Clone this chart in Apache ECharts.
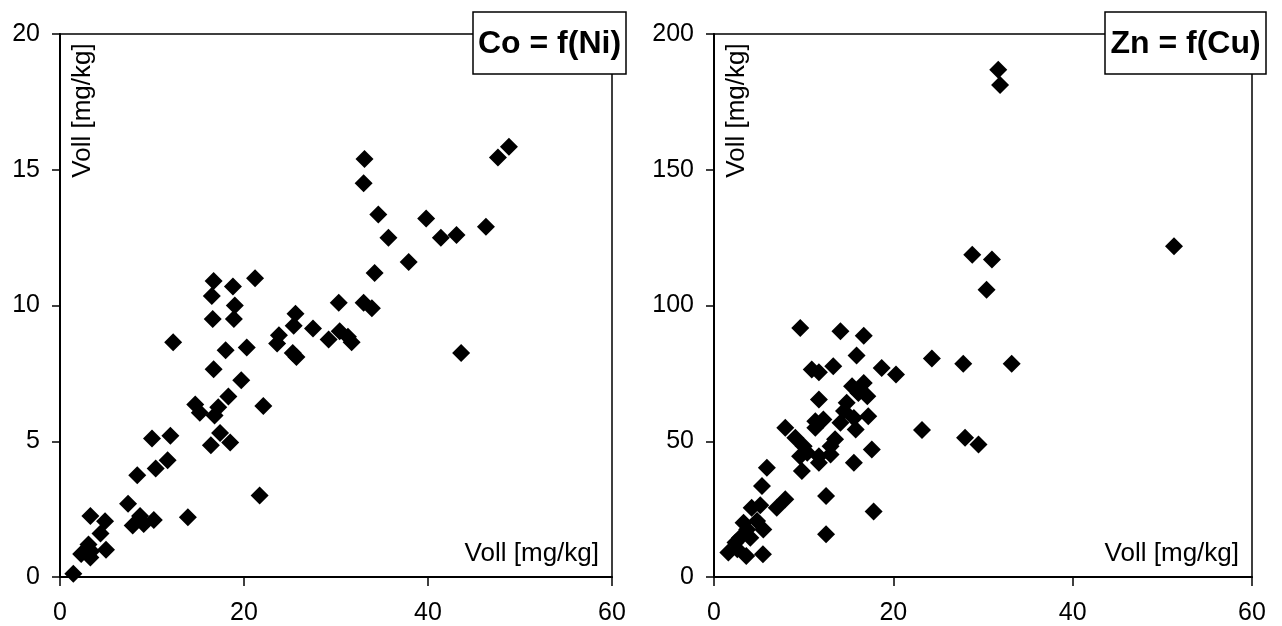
<!DOCTYPE html>
<html>
<head>
<meta charset="utf-8">
<script src="https://cdn.jsdelivr.net/npm/echarts@6/dist/echarts.min.js"></script>
<style>
html,body{margin:0;padding:0;background:#fff;}
#chart{width:1282px;height:626px;}
</style>
</head>
<body>
<div id="chart"></div>
<script>
// Left panel: Co = f(Ni)
const niValues = [1.45,2.3,3.1,3.4,3.3,2.9,3.3,4.4,4.9,5.0,7.4,7.9,8.7,9.1,10.2,8.4,10.0,10.4,12.0,11.7,12.3,13.9,14.7,15.2,16.4,16.8,17.2,17.4,18.5,18.3,16.7,18.0,19.7,20.3,16.6,18.9,19.0,16.7,16.5,18.8,21.2,21.7,22.1,23.8,23.6,25.6,25.4,25.3,25.7,27.5,29.2,30.3,30.4,31.3,31.7,33.0,33.9,43.6,33.1,33.0,34.6,35.7,37.9,34.2,39.8,41.4,43.1,46.3,47.6,48.8];
const coValues = [0.12,0.85,1.2,0.95,0.72,1.0,2.25,1.6,2.05,1.0,2.7,1.9,2.25,1.95,2.1,3.75,5.1,4.0,5.2,4.3,8.65,2.2,6.35,6.05,4.85,5.95,6.25,5.3,4.95,6.65,7.65,8.35,7.25,8.45,9.5,9.5,10.0,10.9,10.35,10.7,11.0,3.0,6.3,8.9,8.6,9.7,9.25,8.25,8.1,9.15,8.75,10.1,9.05,8.85,8.65,10.1,9.9,8.25,15.4,14.5,13.35,12.5,11.6,11.2,13.2,12.5,12.6,12.9,15.45,15.85];
// Right panel: Zn = f(Cu)
const cuValues = [1.6,2.6,2.4,2.9,3.6,4.05,3.3,3.7,4.8,5.5,5.46,4.2,5.16,5.35,5.9,7.0,7.95,7.95,9.07,10.0,9.6,10.4,9.8,11.7,11.7,13.0,13.0,13.5,11.3,11.3,12.2,11.7,10.9,11.7,13.3,9.62,14.1,16.7,15.9,15.4,16.7,17.1,16.1,14.8,14.5,17.2,14.1,15.6,15.8,15.6,17.6,17.8,12.5,12.5,18.7,20.3,24.3,27.8,23.2,28.0,29.5,33.2,28.8,31.0,30.4,31.7,31.9,51.3];
const znValues = [9.0,10.2,12.7,14.5,7.7,14.5,20.0,17.5,20.6,17.5,8.4,25.5,26.4,33.5,40.2,25.5,28.6,55.0,51.3,48.2,44.5,45.8,39.0,42.1,44.5,45.1,48.2,50.7,55.0,57.4,58.0,65.4,76.4,75.4,77.6,91.7,90.5,88.9,81.6,70.3,71.5,66.6,67.8,64.2,61.1,59.2,56.8,58.6,54.3,42.1,47.0,24.1,29.8,15.7,77.0,74.6,80.5,78.5,54.1,51.3,48.8,78.5,118.7,116.9,105.8,186.8,181.2,121.8];

const xTicks = [0, 20, 40, 60];
const yTicksLeft = [0, 5, 10, 15, 20];
const yTicksRight = [0, 50, 100, 150, 200];
const axisNameText = 'Voll [mg/kg]';
const titleLeft = 'Co = f(Ni)';
const titleRight = 'Zn = f(Cu)';

const zip = (a, b) => a.map((v, i) => [v, b[i]]);

const FONT = '"Liberation Sans", Arial, sans-serif';
const G1 = {left: 60, top: 34, width: 552, height: 544};
const G2 = {left: 714, top: 34, width: 538, height: 544};

function xAxisCfg(idx) {
  return {
    type: 'value', gridIndex: idx, min: xTicks[0], max: xTicks[xTicks.length-1],
    interval: xTicks[1]-xTicks[0],
    axisLine: {show: true, onZero: false, lineStyle: {color: '#000', width: 2}},
    axisTick: {show: true, inside: false, length: 9, lineStyle: {color: '#000', width: 1.5}},
    axisLabel: {color: '#000', fontSize: 25, fontFamily: FONT, margin: 24},
    splitLine: {show: false}
  };
}
function yAxisCfg(idx, ticks) {
  return {
    type: 'value', gridIndex: idx, min: ticks[0], max: ticks[ticks.length-1],
    interval: ticks[1]-ticks[0],
    axisLine: {show: true, onZero: false, lineStyle: {color: '#000', width: 2}},
    axisTick: {show: true, inside: false, length: 8, lineStyle: {color: '#000', width: 1.5}},
    axisLabel: {color: '#000', fontSize: 25, fontFamily: FONT, margin: 20},
    splitLine: {show: false}
  };
}

function titleBox(x, y, w, h, text) {
  return {
    type: 'group', z: 100,
    children: [
      {type: 'rect', shape: {x: x, y: y, width: w, height: h},
       style: {fill: '#fff', stroke: '#000', lineWidth: 1.5}},
      {type: 'text', x: x + w/2, y: y + h/2 + 1,
       style: {text: text, fill: '#000', font: 'bold 32px ' + FONT, textAlign: 'center', textVerticalAlign: 'middle'}}
    ]
  };
}
function yName(x, y) {
  return {type: 'text', x: x, y: y, rotation: Math.PI/2, z: 50,
    style: {text: axisNameText, fill: '#000', font: '26px ' + FONT, textAlign: 'center', textVerticalAlign: 'middle'}};
}
function xName(x, y) {
  return {type: 'text', x: x, y: y, z: 50,
    style: {text: axisNameText, fill: '#000', font: '26px ' + FONT, textAlign: 'right', textVerticalAlign: 'middle'}};
}

const chart = echarts.init(document.getElementById('chart'), null, {renderer: 'canvas'});
chart.setOption({
  backgroundColor: '#fff',
  animation: false,
  grid: [
    Object.assign({show: true, borderColor: '#000', borderWidth: 1.5, backgroundColor: 'transparent'}, G1),
    Object.assign({show: true, borderColor: '#000', borderWidth: 1.5, backgroundColor: 'transparent'}, G2)
  ],
  xAxis: [xAxisCfg(0), xAxisCfg(1)],
  yAxis: [yAxisCfg(0, yTicksLeft), yAxisCfg(1, yTicksRight)],
  series: [
    {type: 'scatter', xAxisIndex: 0, yAxisIndex: 0, data: zip(niValues, coValues),
     symbol: 'diamond', symbolSize: 18, itemStyle: {color: '#000', opacity: 1}},
    {type: 'scatter', xAxisIndex: 1, yAxisIndex: 1, data: zip(cuValues, znValues),
     symbol: 'diamond', symbolSize: 18, itemStyle: {color: '#000', opacity: 1}}
  ],
  graphic: [
    yName(G1.left + 22.5, 110.5),
    yName(G2.left + 22.5, 110.5),
    xName(G1.left + G1.width - 13, 554),
    xName(G2.left + G2.width - 13, 554),
    titleBox(473, 12, 153, 62, titleLeft),
    titleBox(1105, 12, 161, 62, titleRight)
  ]
});
</script>
</body>
</html>
